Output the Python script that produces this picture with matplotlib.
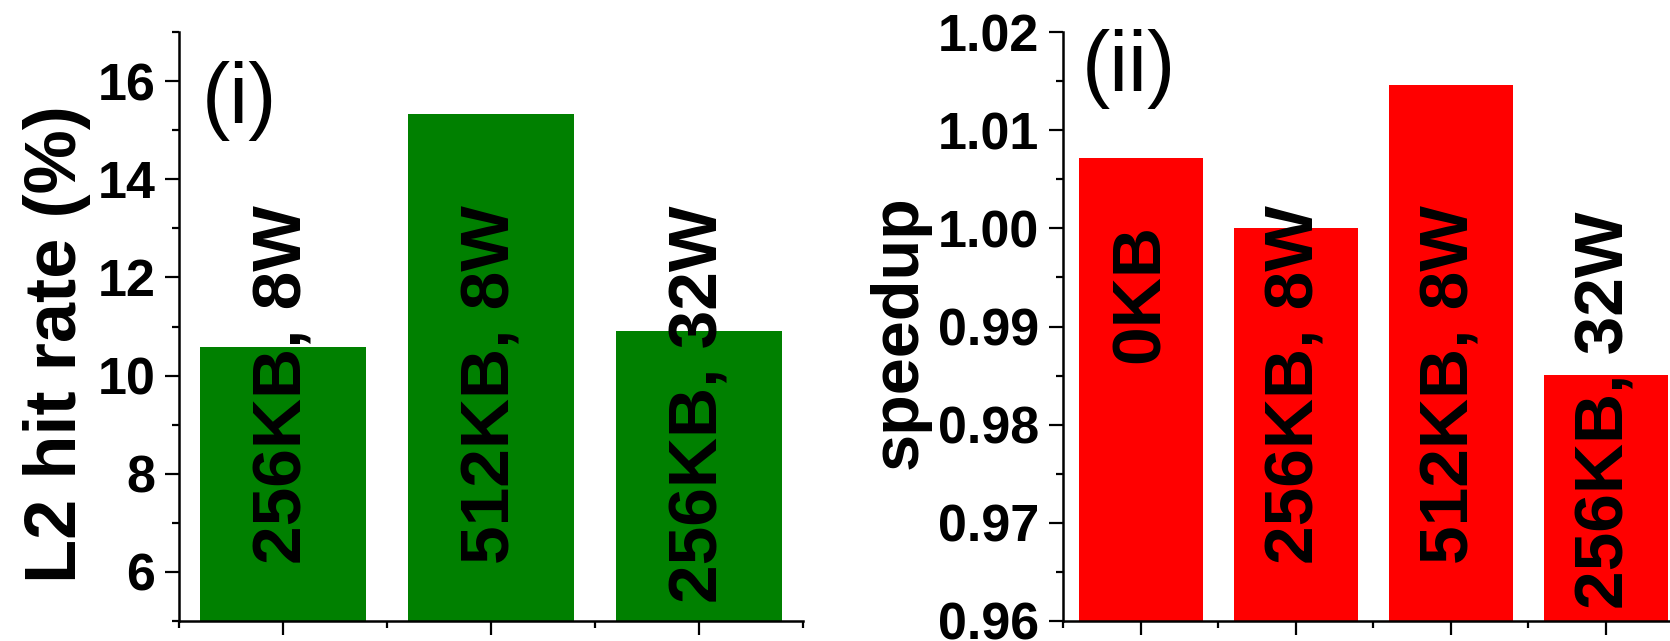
import matplotlib.pyplot as plt
from matplotlib.ticker import MultipleLocator

plt.rcParams['font.family'] = ['Liberation Sans', 'DejaVu Sans']

# panel (i): L2 hit rate
hit_labels = ["256KB, 8W", "512KB, 8W", "256KB, 32W"]
hit_rate = [10.58, 15.32, 10.9]

# panel (ii): speedup
speed_labels = ["0KB", "256KB, 8W", "512KB, 8W", "256KB, 32W"]
speedup = [1.0072, 1.0000, 1.0146, 0.9851]

W, H = 1670, 641
fig = plt.figure(figsize=(W / 100, H / 100), dpi=100)

ax1 = fig.add_axes([179 / W, 20 / H, 624 / W, 589 / H])
ax2 = fig.add_axes([1063 / W, 20 / H, 620 / W, 589 / H])


def style(ax):
    for s in ['top', 'right']:
        ax.spines[s].set_visible(False)
    for s in ['left', 'bottom']:
        ax.spines[s].set_linewidth(1.8)
    ax.tick_params(which='major', direction='out', length=10, width=1.6,
                   labelsize=37.5, pad=7)
    ax.tick_params(which='minor', direction='out', length=5, width=1.6)
    ax.tick_params(axis='x', labelbottom=False)
    for t in ax.get_yticklabels():
        t.set_fontweight('bold')


# (i)
x1 = range(1, len(hit_rate) + 1)
ax1.bar(x1, hit_rate, width=0.8, color='#008000', zorder=2)
ax1.set_xlim(0.5, 3.5)
ax1.set_ylim(5, 17)
ax1.set_xticks(list(x1))
ax1.xaxis.set_minor_locator(MultipleLocator(1, offset=0.5))
ax1.yaxis.set_minor_locator(MultipleLocator(1))
ax1.set_yticks([6, 8, 10, 12, 14, 16])
style(ax1)
ax1.set_ylabel("L2 hit rate (%)", fontsize=52, fontweight='bold')
ax1.yaxis.set_label_coords(-0.141, 0.47)
for xi, lab in zip(x1, hit_labels):
    ax1.text(xi, 0.706, lab, transform=ax1.get_xaxis_transform(),
             rotation=90, ha='center', va='top', fontsize=50, fontweight='bold')
ax1.text(0.036, 0.846, "(i)", transform=ax1.transAxes, fontsize=61,
         va='baseline', ha='left')

# (ii)
x2 = range(1, len(speedup) + 1)
ax2.bar(x2, speedup, width=0.8, color='#ff0000', zorder=2)
ax2.set_xlim(0.5, 4.5)
ax2.set_ylim(0.96, 1.02)
ax2.set_xticks(list(x2))
ax2.xaxis.set_minor_locator(MultipleLocator(1, offset=0.5))
ax2.yaxis.set_major_locator(MultipleLocator(0.01))
ax2.yaxis.set_minor_locator(MultipleLocator(0.005))
ax2.yaxis.set_major_formatter(plt.FormatStrFormatter('%.2f'))
style(ax2)
ax2.set_ylabel("speedup", fontsize=48, fontweight='bold')
ax2.yaxis.set_label_coords(-0.213, 0.491)
tops2 = [0.674, 0.706, 0.706, 0.695]
for xi, lab, tp in zip(x2, speed_labels, tops2):
    ax2.text(xi, tp, lab, transform=ax2.get_xaxis_transform(),
             rotation=90, ha='center', va='top', fontsize=50, fontweight='bold')
ax2.text(0.03, 0.90, "(ii)", transform=ax2.transAxes, fontsize=61,
         va='baseline', ha='left')

fig.savefig("out.png", dpi=100)
